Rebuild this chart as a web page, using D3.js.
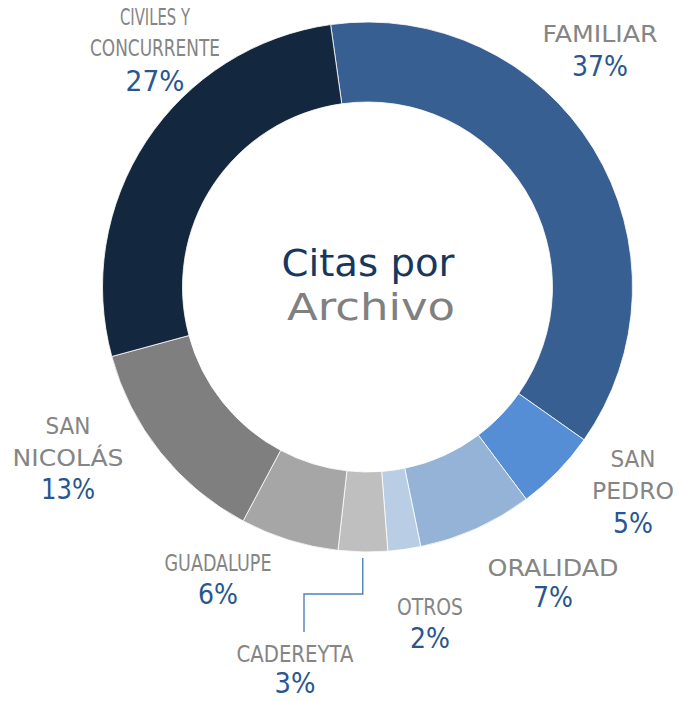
<!DOCTYPE html>
<html>
<head>
<meta charset="utf-8">
<script src="https://cdn.jsdelivr.net/npm/d3@7"></script>
<style>
  html, body { margin: 0; padding: 0; background: #ffffff; }
  svg { display: block; }
  text { font-family: "DejaVu Sans", sans-serif; }
</style>
</head>
<body>
<svg id="chart" width="679" height="701"></svg>
<script>
// Categories in clockwise order starting from the top
const categories = ["FAMILIAR", "SAN PEDRO", "ORALIDAD", "OTROS", "CADEREYTA", "GUADALUPE", "SAN NICOLÁS", "CIVILES Y CONCURRENTE"];
const values = [37, 5, 7, 2, 3, 6, 13, 27];
const labelLines = [["FAMILIAR"], ["SAN", "PEDRO"], ["ORALIDAD"], ["OTROS"], ["CADEREYTA"], ["GUADALUPE"], ["SAN", "NICOLÁS"], ["CIVILES Y", "CONCURRENTE"]];
const colors = ["#375F91", "#558ED5", "#95B3D7", "#B9CDE5", "#BFBFBF", "#A6A6A6", "#7F7F7F", "#13273F"];
const titleLines = ["Citas por", "Archivo"];

const svg = d3.select("#chart");
const cx = 367.5, cy = 287;
const outerR = 265, innerR = 185;

const pie = d3.pie().sort(null).value(d => d)
  .startAngle(-8 * Math.PI / 180)
  .endAngle(-8 * Math.PI / 180 + 2 * Math.PI);
const arc = d3.arc().innerRadius(innerR).outerRadius(outerR);

const g = svg.append("g").attr("transform", `translate(${cx},${cy})`);
g.selectAll("path")
  .data(pie(values))
  .join("path")
  .attr("d", arc)
  .attr("fill", (d, i) => colors[i])
  .attr("stroke", "#ffffff")
  .attr("stroke-width", 0.8);

// Label placement: line baselines, centre x and line widths for each category
const layout = {
  "FAMILIAR":              { x: 600, lines: [42], widths: [115], pctY: 76, pctW: 56 },
  "SAN PEDRO":             { x: 633, lines: [467, 499], widths: [45, 82], pctY: 533, pctW: 40 },
  "ORALIDAD":              { x: 553, lines: [576], widths: [131], pctY: 607, pctW: 40 },
  "OTROS":                 { x: 430, lines: [615], widths: [66], pctY: 648, pctW: 40 },
  "CADEREYTA":             { x: 295, lines: [662], widths: [117], pctY: 693, pctW: 41 },
  "GUADALUPE":             { x: 218, lines: [571], widths: [107], pctY: 604, pctW: 40 },
  "SAN NICOLÁS":           { x: 68,  lines: [434, 466], widths: [45, 111], pctY: 499, pctW: 54 },
  "CIVILES Y CONCURRENTE": { x: 155, lines: [25, 56], widths: [70, 130], pctY: 91, pctW: 59 }
};

const labels = svg.append("g");
categories.forEach((c, i) => {
  const L = layout[c];
  labelLines[i].forEach((line, j) => {
    labels.append("text")
      .attr("x", L.x).attr("y", L.lines[j])
      .attr("text-anchor", "middle")
      .attr("font-size", 23)
      .attr("fill", "#858585")
      .attr("textLength", L.widths[j])
      .attr("lengthAdjust", "spacingAndGlyphs")
      .text(line);
  });
  labels.append("text")
    .attr("x", L.x).attr("y", L.pctY)
    .attr("text-anchor", "middle")
    .attr("font-size", 28)
    .attr("fill", "#2A5690")
    .attr("textLength", L.pctW)
    .attr("lengthAdjust", "spacingAndGlyphs")
    .text(values[i] + "%");
});

// Leader line from the CADEREYTA slice down to its label
const cad = pie(values)[categories.indexOf("CADEREYTA")];
const mid = (cad.startAngle + cad.endAngle) / 2;
const lx = cx + (outerR + 6) * Math.sin(mid);
const ly0 = cy - (outerR + 6) * Math.cos(mid);
svg.append("path")
  .attr("d", d3.line()([[lx, ly0], [lx, 594], [304, 594], [304, 632]]))
  .attr("fill", "none")
  .attr("stroke", "#4F81BD")
  .attr("stroke-width", 1.4);

// Centre title
svg.append("text")
  .attr("x", 368).attr("y", 276)
  .attr("text-anchor", "middle")
  .attr("font-size", 38)
  .attr("fill", "#17375E")
  .attr("textLength", 173)
  .attr("lengthAdjust", "spacingAndGlyphs")
  .text(titleLines[0]);
svg.append("text")
  .attr("x", 371).attr("y", 320)
  .attr("text-anchor", "middle")
  .attr("font-size", 38)
  .attr("fill", "#808080")
  .attr("textLength", 168)
  .attr("lengthAdjust", "spacingAndGlyphs")
  .text(titleLines[1]);
</script>
</body>
</html>
